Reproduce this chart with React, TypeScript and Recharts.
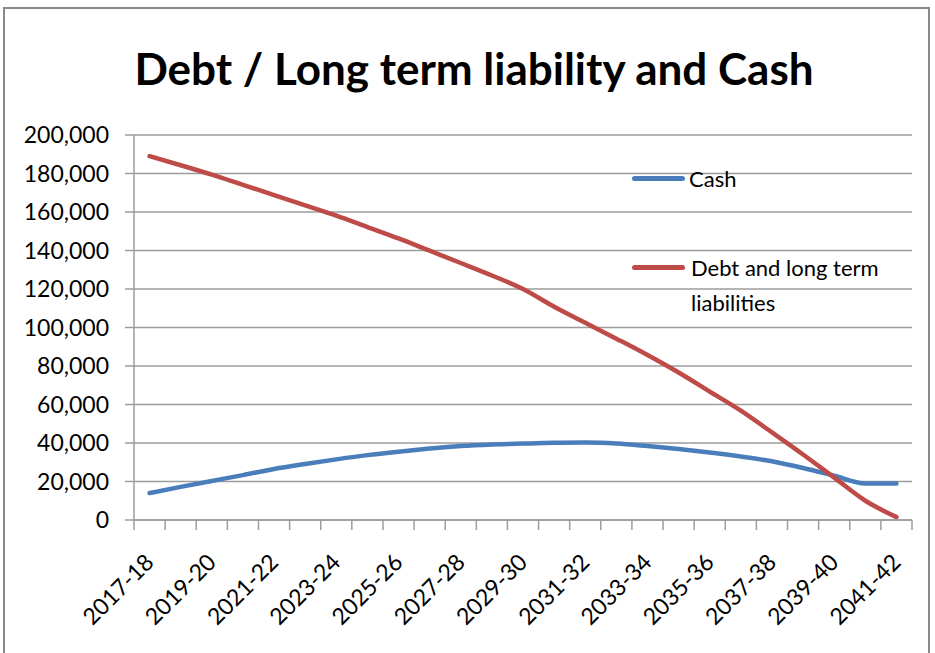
import React from 'react';
import { LineChart, Line, XAxis, YAxis, CartesianGrid, Legend } from 'recharts';

const categories = [
  '2017-18', '2018-19', '2019-20', '2020-21', '2021-22', '2022-23', '2023-24', '2024-25',
  '2025-26', '2026-27', '2027-28', '2028-29', '2029-30', '2030-31', '2031-32', '2032-33',
  '2033-34', '2034-35', '2035-36', '2036-37', '2037-38', '2038-39', '2039-40', '2040-41', '2041-42',
];

const cashValues = [
  14000, 17200, 20300, 23300, 26500, 29100, 31500, 33700, 35500, 37100, 38400, 39200, 39700,
  40100, 40200, 39700, 38400, 36900, 35100, 33000, 30500, 27000, 23000, 19000, 19000,
];

const debtValues = [
  189000, 184300, 179400, 174100, 168800, 163500, 158100, 152200, 146300, 139900, 133500, 127000,
  120000, 110800, 102500, 94200, 85700, 76600, 66700, 56800, 45500, 34000, 22000, 10000, 1500,
];

const yTicks = [0, 20000, 40000, 60000, 80000, 100000, 120000, 140000, 160000, 180000, 200000];

const titleText = 'Debt / Long term liability and Cash';
const cashName = 'Cash';
const debtName = 'Debt and long term liabilities';

const BLUE = '#4A7EBB';
const RED = '#BE4B48';
const GRID = '#9c9c9c';
const FONT = 'Lato, "Open Sans", sans-serif';

const data = categories.map((c, i) => ({ pos: i + 0.5, period: c, cash: cashValues[i], debt: debtValues[i] }));
// Boundaries between categories (tick marks) and centres of every other category (labels)
const xTicks: number[] = [];
for (let i = 0; i <= categories.length; i++) {
  xTicks.push(i);
  if (i < categories.length && i % 2 === 0) xTicks.push(i + 0.5);
}

const XTick = (props: any) => {
  const { x, y, payload } = props;
  const v = payload.value as number;
  if (Number.isInteger(v)) {
    return <line x1={x} x2={x} y1={y} y2={y + 10} stroke={GRID} strokeWidth={1.5} />;
  }
  const label = categories[Math.floor(v)];
  return (
    <g transform={`translate(${x},${y + 38})`}>
      <text transform="rotate(-45)" textAnchor="end" dy="0.35em" fontFamily={FONT} fontSize={23} fill="#000">
        {label}
      </text>
    </g>
  );
};

const renderLegend = () => (
  <div style={{ fontFamily: FONT, fontSize: 22, color: '#000', lineHeight: '35px', textAlign: 'left' }}>
    <div style={{ display: 'flex', alignItems: 'center', height: 36 }}>
      <span style={{ display: 'inline-block', width: 53, height: 5, background: BLUE, borderRadius: 3, marginRight: 4 }} />
      <span>{cashName}</span>
    </div>
    <div style={{ height: 54 }} />
    <div style={{ display: 'flex', alignItems: 'flex-start' }}>
      <span style={{ display: 'inline-block', width: 53, height: 5, background: RED, borderRadius: 3, marginRight: 6, marginTop: 15 }} />
      <span style={{ width: 215 }}>{debtName}</span>
    </div>
  </div>
);

export default function App() {
  return (
    <div style={{ position: 'absolute', left: 0, top: 0, width: 935, height: 653, overflow: 'hidden', background: '#fff' }}>
      <div style={{ position: 'absolute', left: 3, top: 7, width: 927, height: 660, border: '2px solid #8a8a8a', boxSizing: 'border-box' }} />
      <svg style={{ position: 'absolute', left: 0, top: 0 }} width={935} height={120}>
        <text x={474} y={85} textAnchor="middle" fontFamily={FONT} fontWeight={700} fontSize={44} fill="#000">
          {titleText}
        </text>
      </svg>
      <div style={{ position: 'absolute', left: 0, top: 0 }}>
        <LineChart width={935} height={653} data={data} margin={{ top: 135, right: 23, left: 0, bottom: 0 }}>
          <CartesianGrid vertical={false} stroke={GRID} strokeWidth={1.5} />
          <XAxis
            type="number"
            dataKey="pos"
            domain={[0, categories.length]}
            ticks={xTicks}
            interval={0}
            tick={<XTick />}
            tickLine={false}
            tickSize={0}
            tickMargin={0}
            stroke={GRID}
            strokeWidth={1.5}
            height={133}
            allowDataOverflow
          />
          <YAxis
            type="number"
            domain={[0, 200000]}
            ticks={yTicks}
            interval={0}
            width={134}
            tickSize={9}
            tickMargin={16}
            stroke={GRID}
            strokeWidth={1.5}
            tick={{ fill: '#000', fontSize: 23, fontFamily: FONT }}
            tickFormatter={(v: number) => v.toLocaleString('en-US')}
          />
          <Legend
            content={renderLegend}
            layout="horizontal"
            verticalAlign="middle"
            align="center"
            wrapperStyle={{ position: 'absolute', left: 632, top: 160, width: 290 }}
          />
          <Line
            type="monotone"
            dataKey="cash"
            name={cashName}
            stroke={BLUE}
            strokeWidth={4.5}
            dot={false}
            strokeLinecap="round"
            isAnimationActive={false}
          />
          <Line
            type="monotone"
            dataKey="debt"
            name={debtName}
            stroke={RED}
            strokeWidth={4.5}
            dot={false}
            strokeLinecap="round"
            isAnimationActive={false}
          />
        </LineChart>
      </div>
    </div>
  );
}
